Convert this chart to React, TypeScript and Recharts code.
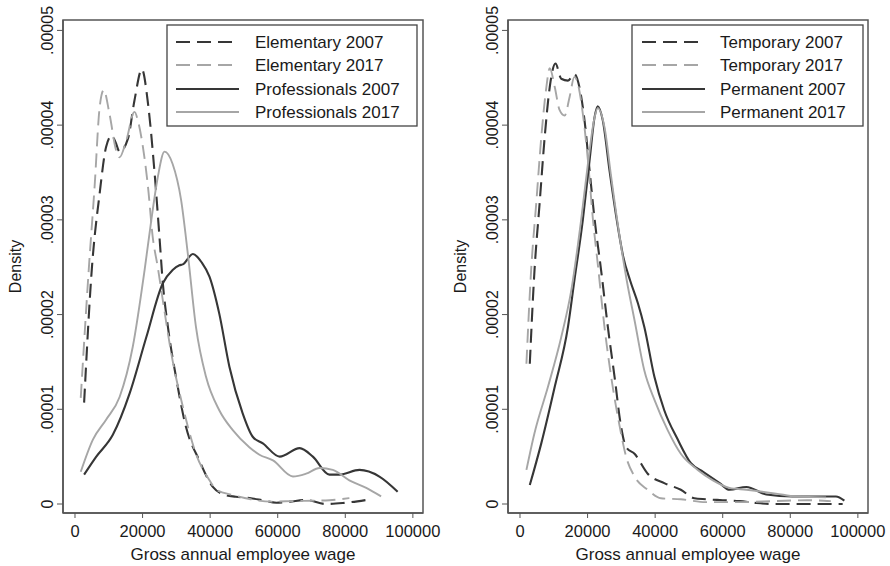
import React from 'react';
import { LineChart, Line, XAxis, YAxis, ReferenceArea } from 'recharts';

// ---------- data (x = gross annual wage, y = density in units of 1e-5) ----------
const elem2007X = [2700, 5000, 7300, 9200, 10900, 12000, 13200, 15700, 17600, 19800, 21600, 23500, 25000, 26000, 27500, 29900, 32800, 36800, 40800, 44000, 47600, 51700, 55500, 59600, 63500, 68400, 74300, 79200, 86100];
const elem2007Y = [1.07, 2.49, 3.28, 3.77, 3.89, 3.82, 3.72, 3.86, 4.26, 4.59, 4.23, 3.52, 2.82, 2.33, 1.87, 1.34, 0.82, 0.46, 0.18, 0.10, 0.077, 0.063, 0.04, 0.014, 0.025, 0.042, 0.0, 0.01, 0.042];

const elem2017X = [1700, 4100, 5800, 7300, 8500, 10200, 12200, 13200, 15200, 17600, 18600, 20100, 21600, 23000, 24500, 26000, 28500, 31900, 35800, 39800, 41800, 46700, 52000, 58000, 64000, 70000, 75300, 81200];
const elem2017Y = [1.12, 2.49, 3.35, 4.19, 4.37, 4.12, 3.73, 3.66, 3.84, 4.14, 4.05, 3.77, 3.35, 2.82, 2.5, 2.15, 1.59, 1.03, 0.53, 0.25, 0.15, 0.095, 0.05, 0.025, 0.03, 0.035, 0.04, 0.063];

const prof2007X = [2700, 6300, 11200, 16200, 21100, 26000, 28900, 30900, 31900, 34900, 37500, 39800, 42700, 45700, 49600, 52600, 55600, 60600, 66500, 70400, 75300, 78300, 84200, 90100, 95500];
const prof2007Y = [0.31, 0.5, 0.73, 1.17, 1.76, 2.33, 2.47, 2.52, 2.53, 2.64, 2.55, 2.4, 2.01, 1.45, 0.96, 0.71, 0.64, 0.5, 0.59, 0.5, 0.31, 0.31, 0.36, 0.29, 0.13];

const prof2017X = [1700, 5300, 9200, 13200, 17100, 20600, 22600, 24500, 26500, 28900, 31400, 33400, 35800, 38800, 42700, 46700, 51600, 54600, 58600, 64500, 68400, 72400, 76300, 81200, 86200, 90600];
const prof2017Y = [0.34, 0.68, 0.89, 1.13, 1.66, 2.47, 3.0, 3.45, 3.72, 3.59, 3.21, 2.64, 1.87, 1.34, 0.99, 0.78, 0.6, 0.52, 0.46, 0.29, 0.32, 0.38, 0.36, 0.25, 0.17, 0.08];

const temp2007X = [2900, 4300, 5800, 7300, 8800, 10500, 12200, 14200, 16100, 17600, 19100, 20600, 22100, 24000, 26000, 28000, 29900, 31400, 33900, 37800, 42700, 47600, 51600, 55000, 60000, 65000, 70000, 75000, 85000, 95500];
const temp2007Y = [1.48, 2.47, 3.17, 3.87, 4.4, 4.65, 4.49, 4.47, 4.54, 4.4, 4.05, 3.52, 3.0, 2.47, 1.87, 1.34, 0.82, 0.6, 0.53, 0.32, 0.22, 0.15, 0.06, 0.05, 0.04, 0.03, 0.01, 0.0, 0.0, 0.0];

const temp2017X = [1900, 3300, 4800, 6300, 7800, 8800, 10300, 11700, 13200, 14700, 16100, 17100, 18600, 20100, 21600, 23000, 25000, 27000, 29500, 31400, 33900, 37800, 41700, 47600, 55000, 65000, 75000, 85000, 92000];
const temp2017Y = [1.48, 2.47, 3.17, 3.87, 4.4, 4.6, 4.4, 4.16, 4.1, 4.3, 4.51, 4.44, 4.12, 3.63, 3.0, 2.54, 1.87, 1.34, 0.82, 0.5, 0.29, 0.15, 0.06, 0.05, 0.02, 0.02, 0.03, 0.04, 0.03];

const perm2007X = [2900, 6300, 10300, 14200, 16100, 18600, 20600, 22100, 23000, 24500, 26500, 29000, 30500, 32600, 34900, 36800, 39800, 42700, 46700, 50600, 54200, 59100, 62000, 67000, 72900, 80700, 86600, 93500, 96000];
const perm2007Y = [0.2, 0.64, 1.24, 1.87, 2.36, 3.0, 3.63, 4.09, 4.2, 4.05, 3.52, 2.92, 2.62, 2.36, 2.12, 1.87, 1.34, 0.99, 0.68, 0.43, 0.34, 0.22, 0.15, 0.18, 0.1, 0.08, 0.08, 0.08, 0.035];

const perm2017X = [1900, 4300, 8300, 12200, 15200, 18100, 20100, 21900, 23000, 25000, 27000, 29500, 31600, 33900, 36800, 39800, 43700, 47600, 52600, 57100, 62000, 67000, 75800, 81700, 90600];
const perm2017Y = [0.36, 0.75, 1.24, 1.76, 2.26, 3.0, 3.59, 4.05, 4.18, 3.98, 3.45, 2.82, 2.36, 1.94, 1.41, 1.1, 0.78, 0.53, 0.36, 0.25, 0.17, 0.15, 0.11, 0.08, 0.07];

const xTicks = [0, 20000, 40000, 60000, 80000, 100000];
const yTicks = [0, 0.00001, 0.00002, 0.00003, 0.00004, 0.00005];
const yTickLabels = ['0', '.00001', '.00002', '.00003', '.00004', '.00005'];

const leftNames = ['Elementary 2007', 'Elementary 2017', 'Professionals 2007', 'Professionals 2017'];
const rightNames = ['Temporary 2007', 'Temporary 2017', 'Permanent 2007', 'Permanent 2017'];

// ---------- styling ----------
const FONT = '"Liberation Sans", Arial, Helvetica, sans-serif';
const DARK = '#363636';
const LIGHT = '#a6a6a6';
const TEXT = '#1a1a1a';
const BOX = '#555';
const DASH = '14 7';
const X_DOMAIN: [number, number] = [-3550, 103000];
const Y_DOMAIN: [number, number] = [-0.00000095, 0.0000511];

const seriesStyles = [
  { stroke: DARK, dash: DASH, width: 2.1 },
  { stroke: LIGHT, dash: DASH, width: 1.9 },
  { stroke: DARK, dash: undefined as string | undefined, width: 2.1 },
  { stroke: LIGHT, dash: undefined as string | undefined, width: 1.9 },
];

const build = (xs: number[], ys: number[]) => xs.map((x, i) => ({ x, y: ys[i] * 1e-5 }));

const YTick = (props: any) => {
  const { x, y, payload } = props;
  const bx = x - 2;
  const idx = yTicks.findIndex((t) => Math.abs(t - payload.value) < 1e-9);
  const label = idx >= 0 ? yTickLabels[idx] : String(payload.value);
  return (
    <text x={bx} y={y} transform={`rotate(-90, ${bx}, ${y})`} textAnchor="middle" fontSize={16} fill={TEXT} fontFamily={FONT}>
      {label}
    </text>
  );
};

const YTitle = (props: any) => {
  const vb = props.viewBox || { x: 0, y: 20, width: 63, height: 493 };
  const cx = vb.x + 21;
  const cy = vb.y + vb.height / 2;
  return (
    <text x={cx} y={cy} transform={`rotate(-90, ${cx}, ${cy})`} textAnchor="middle" fontSize={16} fill={TEXT} fontFamily={FONT}>
      Density
    </text>
  );
};

type PanelProps = {
  series: { x: number[]; y: number[] }[];
  names: string[];
  left: number;
  legend: { x: number; w: number; lineX1: number; lineX2: number; textX: number };
};

const Panel = ({ series, names, left, legend }: PanelProps) => {
  const rows = [42, 65, 89, 112];
  return (
    <div style={{ position: 'absolute', left, top: 0, width: 445, height: 566 }}>
      <LineChart width={445} height={566} margin={{ top: 20, right: 22, bottom: 0, left: 0 }}>
        <XAxis
          type="number"
          dataKey="x"
          domain={X_DOMAIN}
          ticks={xTicks}
          allowDataOverflow
          height={53}
          tickSize={5}
          tickMargin={7}
          tickLine={{ stroke: BOX }}
          axisLine={{ stroke: BOX, strokeWidth: 1.5 }}
          tick={{ fontSize: 16.5, fill: TEXT, fontFamily: FONT }}
          interval={0}
          label={{ value: 'Gross annual employee wage', position: 'insideBottom', offset: 6, fontSize: 17, fill: TEXT, fontFamily: FONT }}
        />
        <YAxis
          type="number"
          domain={Y_DOMAIN}
          ticks={yTicks}
          allowDataOverflow
          width={63}
          tickSize={6}
          tickMargin={2}
          tickLine={{ stroke: BOX }}
          axisLine={{ stroke: BOX, strokeWidth: 1.5 }}
          tick={<YTick />}
          interval={0}
          label={<YTitle />}
        />
        <ReferenceArea x1={X_DOMAIN[0]} x2={X_DOMAIN[1]} y1={Y_DOMAIN[0]} y2={Y_DOMAIN[1]} fill="none" fillOpacity={0} stroke={BOX} strokeWidth={1.5} ifOverflow="visible" />
        {series.map((s, i) => (
          <Line
            key={names[i]}
            data={build(s.x, s.y)}
            dataKey="y"
            name={names[i]}
            type="monotone"
            stroke={seriesStyles[i].stroke}
            strokeWidth={seriesStyles[i].width}
            strokeDasharray={seriesStyles[i].dash}
            dot={false}
            activeDot={false}
            isAnimationActive={false}
          />
        ))}
      </LineChart>
      <svg style={{ position: 'absolute', left: 0, top: 0 }} width={445} height={566} pointerEvents="none">
        <rect x={legend.x} y={25} width={legend.w} height={101} fill="#fff" stroke="#444" strokeWidth={1.3} />
        {names.map((n, i) => (
          <g key={n}>
            <line x1={legend.lineX1} x2={legend.lineX2} y1={rows[i]} y2={rows[i]} stroke={seriesStyles[i].stroke} strokeWidth={seriesStyles[i].width} strokeDasharray={seriesStyles[i].dash} />
            <text x={legend.textX} y={rows[i] + 6} fontSize={17} fill={TEXT} fontFamily={FONT}>
              {n}
            </text>
          </g>
        ))}
      </svg>
    </div>
  );
};

export default function App() {
  const leftSeries = [
    { x: elem2007X, y: elem2007Y },
    { x: elem2017X, y: elem2017Y },
    { x: prof2007X, y: prof2007Y },
    { x: prof2017X, y: prof2017Y },
  ];
  const rightSeries = [
    { x: temp2007X, y: temp2007Y },
    { x: temp2017X, y: temp2017Y },
    { x: perm2007X, y: perm2007Y },
    { x: perm2017X, y: perm2017Y },
  ];
  return (
    <div style={{ position: 'absolute', left: 0, top: 0, width: 890, height: 566, background: '#fff', fontFamily: FONT }}>
      <Panel series={leftSeries} names={leftNames} left={0} legend={{ x: 167, w: 250, lineX1: 176, lineX2: 239, textX: 255 }} />
      <Panel series={rightSeries} names={rightNames} left={445} legend={{ x: 187, w: 231, lineX1: 197, lineX2: 260, textX: 275 }} />
    </div>
  );
}
